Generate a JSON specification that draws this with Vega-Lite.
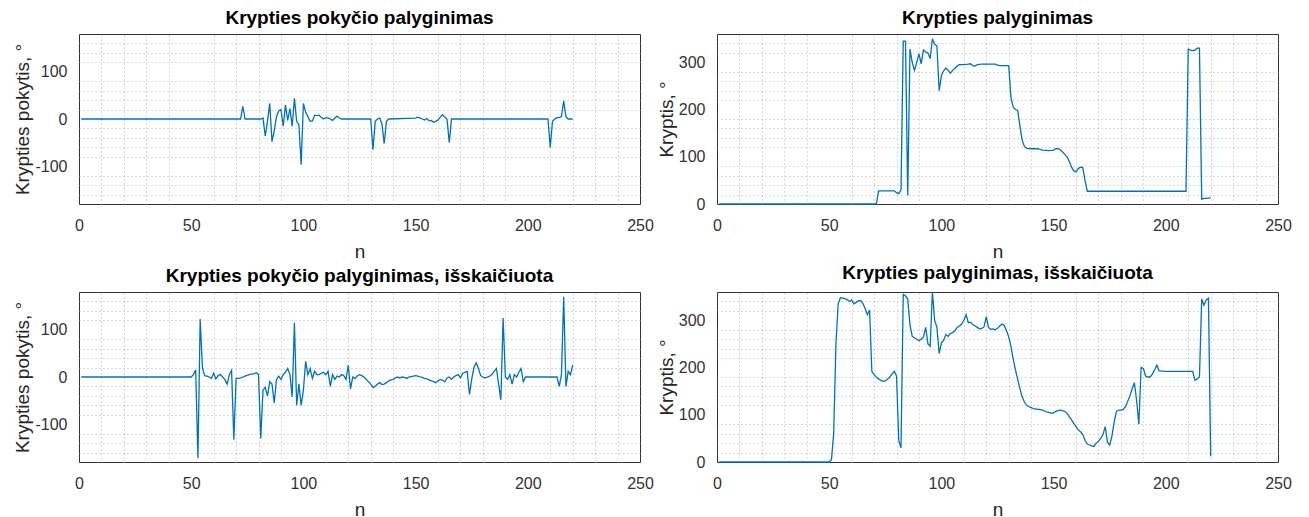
{
  "$schema": "https://vega.github.io/schema/vega-lite/v6.json",
  "background": "white",
  "padding": {"left": 13, "top": 8, "right": 0, "bottom": 0},
  "columns": 2,
  "spacing": {"row": 88, "column": 77},
  "bounds": "flush",
  "datasets": {
    "tl": [
      {"n":1,"v":0},{"n":72,"v":0},{"n":73,"v":27},{"n":74,"v":0},{"n":81,"v":0},{"n":82,"v":2},{"n":83,"v":-36},{"n":84,"v":-5},{"n":85,"v":33},{"n":86,"v":-48},{"n":87,"v":-25},{"n":88,"v":5},{"n":89,"v":17},{"n":90,"v":20},{"n":91,"v":-15},{"n":92,"v":30},{"n":93,"v":-3},{"n":94,"v":22},{"n":95,"v":-15},{"n":96,"v":44},{"n":97,"v":-5},{"n":98,"v":-12},{"n":99,"v":-97},{"n":100,"v":33},{"n":101,"v":15},{"n":102,"v":5},{"n":103,"v":-5},{"n":104,"v":-4},{"n":105,"v":8},{"n":106,"v":7},{"n":107,"v":8},{"n":108,"v":3},{"n":109,"v":0},{"n":110,"v":3},{"n":111,"v":2},{"n":112,"v":0},{"n":113,"v":-3},{"n":114,"v":2},{"n":115,"v":6},{"n":116,"v":2},{"n":117,"v":0},{"n":130,"v":0},{"n":131,"v":-65},{"n":132,"v":-5},{"n":133,"v":0},{"n":134,"v":2},{"n":135,"v":-10},{"n":136,"v":-52},{"n":137,"v":-5},{"n":138,"v":0},{"n":150,"v":2},{"n":151,"v":4},{"n":152,"v":2},{"n":153,"v":0},{"n":154,"v":-2},{"n":155,"v":1},{"n":156,"v":-4},{"n":157,"v":-3},{"n":158,"v":-7},{"n":159,"v":-5},{"n":160,"v":-2},{"n":161,"v":4},{"n":162,"v":9},{"n":163,"v":4},{"n":164,"v":0},{"n":165,"v":-50},{"n":166,"v":0},{"n":209,"v":0},{"n":210,"v":-60},{"n":211,"v":-5},{"n":212,"v":0},{"n":213,"v":3},{"n":214,"v":3},{"n":215,"v":5},{"n":216,"v":38},{"n":217,"v":5},{"n":218,"v":0},{"n":220,"v":0}
    ],
    "tr": [
      {"n":1,"v":0},{"n":71,"v":0},{"n":72,"v":28},{"n":79,"v":28},{"n":80,"v":24},{"n":81,"v":22},{"n":82,"v":30},{"n":83,"v":345},{"n":84,"v":345},{"n":85,"v":18},{"n":86,"v":328},{"n":87,"v":300},{"n":88,"v":283},{"n":89,"v":300},{"n":90,"v":318},{"n":91,"v":297},{"n":92,"v":326},{"n":93,"v":322},{"n":94,"v":320},{"n":95,"v":308},{"n":96,"v":350},{"n":97,"v":338},{"n":98,"v":335},{"n":99,"v":240},{"n":100,"v":272},{"n":101,"v":282},{"n":102,"v":288},{"n":103,"v":283},{"n":104,"v":277},{"n":105,"v":283},{"n":106,"v":287},{"n":107,"v":292},{"n":108,"v":295},{"n":110,"v":295},{"n":112,"v":296},{"n":113,"v":297},{"n":114,"v":293},{"n":115,"v":292},{"n":116,"v":295},{"n":118,"v":296},{"n":121,"v":296},{"n":124,"v":296},{"n":125,"v":294},{"n":126,"v":293},{"n":130,"v":293},{"n":131,"v":225},{"n":132,"v":205},{"n":133,"v":200},{"n":134,"v":198},{"n":135,"v":165},{"n":136,"v":135},{"n":137,"v":122},{"n":138,"v":118},{"n":140,"v":117},{"n":143,"v":117},{"n":145,"v":114},{"n":148,"v":113},{"n":150,"v":114},{"n":151,"v":117},{"n":152,"v":117},{"n":153,"v":115},{"n":154,"v":110},{"n":155,"v":105},{"n":156,"v":100},{"n":157,"v":90},{"n":158,"v":78},{"n":159,"v":70},{"n":160,"v":68},{"n":161,"v":75},{"n":162,"v":78},{"n":163,"v":77},{"n":164,"v":50},{"n":165,"v":27},{"n":209,"v":27},{"n":210,"v":328},{"n":211,"v":326},{"n":212,"v":325},{"n":213,"v":326},{"n":214,"v":330},{"n":215,"v":330},{"n":216,"v":10},{"n":217,"v":12},{"n":218,"v":12},{"n":220,"v":13}
    ],
    "bl": [
      {"n":1,"v":0},{"n":50,"v":0},{"n":51,"v":5},{"n":52,"v":15},{"n":53,"v":-172},{"n":54,"v":123},{"n":55,"v":20},{"n":56,"v":3},{"n":57,"v":2},{"n":58,"v":0},{"n":59,"v":-3},{"n":60,"v":8},{"n":61,"v":-4},{"n":62,"v":3},{"n":63,"v":5},{"n":64,"v":0},{"n":65,"v":-5},{"n":66,"v":-15},{"n":67,"v":5},{"n":68,"v":14},{"n":69,"v":-133},{"n":70,"v":-3},{"n":71,"v":-3},{"n":72,"v":-2},{"n":73,"v":0},{"n":74,"v":2},{"n":75,"v":4},{"n":76,"v":5},{"n":77,"v":6},{"n":78,"v":7},{"n":79,"v":9},{"n":80,"v":5},{"n":81,"v":-130},{"n":82,"v":-28},{"n":83,"v":-22},{"n":84,"v":-40},{"n":85,"v":-10},{"n":86,"v":-15},{"n":87,"v":-55},{"n":88,"v":-5},{"n":89,"v":2},{"n":90,"v":-5},{"n":91,"v":5},{"n":92,"v":10},{"n":93,"v":18},{"n":94,"v":5},{"n":95,"v":-42},{"n":96,"v":115},{"n":97,"v":-60},{"n":98,"v":-15},{"n":99,"v":-60},{"n":100,"v":-28},{"n":101,"v":33},{"n":102,"v":5},{"n":103,"v":18},{"n":104,"v":-3},{"n":105,"v":12},{"n":106,"v":5},{"n":107,"v":5},{"n":108,"v":8},{"n":109,"v":10},{"n":110,"v":5},{"n":111,"v":12},{"n":112,"v":-20},{"n":113,"v":5},{"n":114,"v":-5},{"n":115,"v":2},{"n":116,"v":0},{"n":117,"v":5},{"n":118,"v":3},{"n":119,"v":-5},{"n":120,"v":25},{"n":121,"v":-25},{"n":122,"v":0},{"n":123,"v":-3},{"n":124,"v":2},{"n":125,"v":5},{"n":126,"v":3},{"n":127,"v":0},{"n":128,"v":-5},{"n":129,"v":-10},{"n":130,"v":-15},{"n":131,"v":-22},{"n":132,"v":-20},{"n":133,"v":-15},{"n":134,"v":-12},{"n":135,"v":-16},{"n":136,"v":-15},{"n":137,"v":-12},{"n":138,"v":-8},{"n":139,"v":-6},{"n":140,"v":-5},{"n":141,"v":-2},{"n":142,"v":0},{"n":143,"v":-2},{"n":144,"v":0},{"n":145,"v":-1},{"n":146,"v":-3},{"n":147,"v":0},{"n":148,"v":1},{"n":149,"v":2},{"n":150,"v":3},{"n":151,"v":2},{"n":152,"v":0},{"n":153,"v":-1},{"n":154,"v":-3},{"n":155,"v":-4},{"n":156,"v":-6},{"n":157,"v":-8},{"n":158,"v":-10},{"n":159,"v":-12},{"n":160,"v":-8},{"n":161,"v":-5},{"n":162,"v":-7},{"n":163,"v":-10},{"n":164,"v":-2},{"n":165,"v":0},{"n":166,"v":-5},{"n":167,"v":0},{"n":168,"v":3},{"n":169,"v":5},{"n":170,"v":-2},{"n":171,"v":8},{"n":172,"v":10},{"n":173,"v":12},{"n":174,"v":-37},{"n":175,"v":-5},{"n":176,"v":20},{"n":177,"v":30},{"n":178,"v":18},{"n":179,"v":3},{"n":180,"v":0},{"n":181,"v":-2},{"n":182,"v":0},{"n":183,"v":2},{"n":184,"v":5},{"n":185,"v":12},{"n":186,"v":18},{"n":187,"v":-15},{"n":188,"v":-48},{"n":189,"v":125},{"n":190,"v":0},{"n":191,"v":-5},{"n":192,"v":5},{"n":193,"v":-15},{"n":194,"v":5},{"n":195,"v":0},{"n":196,"v":10},{"n":197,"v":18},{"n":198,"v":-10},{"n":199,"v":0},{"n":213,"v":0},{"n":214,"v":-20},{"n":215,"v":5},{"n":216,"v":170},{"n":217,"v":-20},{"n":218,"v":12},{"n":219,"v":5},{"n":220,"v":25}
    ],
    "br": [
      {"n":1,"v":0},{"n":50,"v":0},{"n":51,"v":5},{"n":52,"v":60},{"n":53,"v":250},{"n":54,"v":335},{"n":55,"v":348},{"n":56,"v":347},{"n":57,"v":346},{"n":58,"v":344},{"n":59,"v":340},{"n":60,"v":343},{"n":61,"v":335},{"n":62,"v":338},{"n":63,"v":341},{"n":64,"v":342},{"n":65,"v":336},{"n":66,"v":325},{"n":67,"v":312},{"n":68,"v":322},{"n":69,"v":192},{"n":70,"v":185},{"n":71,"v":180},{"n":72,"v":176},{"n":73,"v":173},{"n":74,"v":171},{"n":75,"v":172},{"n":76,"v":175},{"n":77,"v":180},{"n":78,"v":186},{"n":79,"v":192},{"n":80,"v":182},{"n":81,"v":45},{"n":82,"v":30},{"n":83,"v":355},{"n":84,"v":352},{"n":85,"v":345},{"n":86,"v":290},{"n":87,"v":266},{"n":88,"v":263},{"n":89,"v":260},{"n":90,"v":257},{"n":91,"v":260},{"n":92,"v":265},{"n":93,"v":285},{"n":94,"v":250},{"n":95,"v":245},{"n":96,"v":360},{"n":97,"v":300},{"n":98,"v":285},{"n":99,"v":230},{"n":100,"v":252},{"n":101,"v":258},{"n":102,"v":270},{"n":103,"v":266},{"n":104,"v":272},{"n":105,"v":274},{"n":106,"v":278},{"n":107,"v":285},{"n":108,"v":288},{"n":109,"v":292},{"n":110,"v":300},{"n":111,"v":312},{"n":112,"v":295},{"n":113,"v":296},{"n":114,"v":291},{"n":115,"v":288},{"n":116,"v":285},{"n":117,"v":282},{"n":118,"v":283},{"n":119,"v":286},{"n":120,"v":308},{"n":121,"v":285},{"n":122,"v":281},{"n":123,"v":282},{"n":124,"v":280},{"n":125,"v":283},{"n":126,"v":288},{"n":127,"v":292},{"n":128,"v":289},{"n":129,"v":278},{"n":130,"v":265},{"n":131,"v":245},{"n":132,"v":218},{"n":133,"v":195},{"n":134,"v":175},{"n":135,"v":155},{"n":136,"v":138},{"n":137,"v":127},{"n":138,"v":120},{"n":139,"v":117},{"n":140,"v":115},{"n":141,"v":113},{"n":142,"v":112},{"n":143,"v":112},{"n":144,"v":111},{"n":145,"v":110},{"n":146,"v":108},{"n":147,"v":106},{"n":148,"v":105},{"n":149,"v":103},{"n":150,"v":104},{"n":151,"v":107},{"n":152,"v":109},{"n":153,"v":110},{"n":154,"v":109},{"n":155,"v":107},{"n":156,"v":103},{"n":157,"v":96},{"n":158,"v":89},{"n":159,"v":82},{"n":160,"v":75},{"n":161,"v":68},{"n":162,"v":64},{"n":163,"v":58},{"n":164,"v":46},{"n":165,"v":38},{"n":166,"v":36},{"n":167,"v":34},{"n":168,"v":33},{"n":169,"v":40},{"n":170,"v":44},{"n":171,"v":50},{"n":172,"v":58},{"n":173,"v":75},{"n":174,"v":42},{"n":175,"v":36},{"n":176,"v":55},{"n":177,"v":85},{"n":178,"v":107},{"n":179,"v":110},{"n":180,"v":110},{"n":181,"v":111},{"n":182,"v":117},{"n":183,"v":128},{"n":184,"v":140},{"n":185,"v":155},{"n":186,"v":168},{"n":187,"v":130},{"n":188,"v":80},{"n":189,"v":200},{"n":190,"v":198},{"n":191,"v":182},{"n":192,"v":180},{"n":193,"v":180},{"n":194,"v":186},{"n":195,"v":195},{"n":196,"v":205},{"n":197,"v":193},{"n":200,"v":192},{"n":212,"v":192},{"n":213,"v":173},{"n":214,"v":176},{"n":215,"v":180},{"n":216,"v":345},{"n":217,"v":332},{"n":218,"v":343},{"n":219,"v":347},{"n":220,"v":12}
    ]
  },
  "concat": [
    {
      "width": 561, "height": 170,
      "title": "Krypties pokyčio palyginimas",
      "data": {"name": "tl"},
      "layer": [
        {
          "mark": {"type": "line", "strokeOpacity": 0},
          "encoding": {
            "x": {"field": "n", "type": "quantitative", "scale": {"domain": [0, 250], "nice": false, "zero": false},
                  "axis": {"orient": "top", "values": [10,20,30,40,60,70,80,90,110,120,130,140,160,170,180,190,210,220,230,240], "grid": true, "gridDash": [1, 3], "gridColor": "#b4b4b4", "labels": false, "ticks": false, "domain": false, "title": null}},
            "y": {"field": "v", "type": "quantitative", "scale": {"domain": [-180, 180], "nice": false},
                  "axis": {"orient": "right", "values": [-160,-140,-120,-80,-60,-40,-20,20,40,60,80,120,140,160], "grid": true, "gridDash": [1, 3], "gridColor": "#b4b4b4", "labels": false, "ticks": false, "domain": false, "title": null}}
          }
        },
        {
          "mark": {"type": "line", "color": "#0072BD", "strokeWidth": 1.3},
          "encoding": {
            "x": {"field": "n", "type": "quantitative", "axis": {"orient": "bottom", "values": [0,50,100,150,200,250], "title": "n"}},
            "y": {"field": "v", "type": "quantitative", "axis": {"orient": "left", "values": [-100,0,100], "title": "Krypties pokytis, °", "labelExpr": "replace(datum.label, '\u2212', '-')"}}
          }
        }
      ],
      "resolve": {"axis": {"x": "independent", "y": "independent"}}
    },
    {
      "width": 561, "height": 170,
      "title": "Krypties palyginimas",
      "data": {"name": "tr"},
      "layer": [
        {
          "mark": {"type": "line", "strokeOpacity": 0},
          "encoding": {
            "x": {"field": "n", "type": "quantitative", "scale": {"domain": [0, 250], "nice": false, "zero": false},
                  "axis": {"orient": "top", "values": [10,20,30,40,60,70,80,90,110,120,130,140,160,170,180,190,210,220,230,240], "grid": true, "gridDash": [1, 3], "gridColor": "#b4b4b4", "labels": false, "ticks": false, "domain": false, "title": null}},
            "y": {"field": "v", "type": "quantitative", "scale": {"domain": [0, 360], "nice": false},
                  "axis": {"orient": "right", "values": [20,40,60,80,120,140,160,180,220,240,260,280,320,340], "grid": true, "gridDash": [1, 3], "gridColor": "#b4b4b4", "labels": false, "ticks": false, "domain": false, "title": null}}
          }
        },
        {
          "mark": {"type": "line", "color": "#0072BD", "strokeWidth": 1.3},
          "encoding": {
            "x": {"field": "n", "type": "quantitative", "axis": {"orient": "bottom", "values": [0,50,100,150,200,250], "title": "n"}},
            "y": {"field": "v", "type": "quantitative", "axis": {"orient": "left", "values": [0,100,200,300], "title": "Kryptis, °"}}
          }
        }
      ],
      "resolve": {"axis": {"x": "independent", "y": "independent"}}
    },
    {
      "width": 561, "height": 170,
      "title": "Krypties pokyčio palyginimas, išskaičiuota",
      "data": {"name": "bl"},
      "layer": [
        {
          "mark": {"type": "line", "strokeOpacity": 0},
          "encoding": {
            "x": {"field": "n", "type": "quantitative", "scale": {"domain": [0, 250], "nice": false, "zero": false},
                  "axis": {"orient": "top", "values": [10,20,30,40,60,70,80,90,110,120,130,140,160,170,180,190,210,220,230,240], "grid": true, "gridDash": [1, 3], "gridColor": "#b4b4b4", "labels": false, "ticks": false, "domain": false, "title": null}},
            "y": {"field": "v", "type": "quantitative", "scale": {"domain": [-180, 180], "nice": false},
                  "axis": {"orient": "right", "values": [-160,-140,-120,-80,-60,-40,-20,20,40,60,80,120,140,160], "grid": true, "gridDash": [1, 3], "gridColor": "#b4b4b4", "labels": false, "ticks": false, "domain": false, "title": null}}
          }
        },
        {
          "mark": {"type": "line", "color": "#0072BD", "strokeWidth": 1.3},
          "encoding": {
            "x": {"field": "n", "type": "quantitative", "axis": {"orient": "bottom", "values": [0,50,100,150,200,250], "title": "n"}},
            "y": {"field": "v", "type": "quantitative", "axis": {"orient": "left", "values": [-100,0,100], "title": "Krypties pokytis, °", "labelExpr": "replace(datum.label, '\u2212', '-')"}}
          }
        }
      ],
      "resolve": {"axis": {"x": "independent", "y": "independent"}}
    },
    {
      "width": 561, "height": 170,
      "title": "Krypties palyginimas, išskaičiuota",
      "data": {"name": "br"},
      "layer": [
        {
          "mark": {"type": "line", "strokeOpacity": 0},
          "encoding": {
            "x": {"field": "n", "type": "quantitative", "scale": {"domain": [0, 250], "nice": false, "zero": false},
                  "axis": {"orient": "top", "values": [10,20,30,40,60,70,80,90,110,120,130,140,160,170,180,190,210,220,230,240], "grid": true, "gridDash": [1, 3], "gridColor": "#b4b4b4", "labels": false, "ticks": false, "domain": false, "title": null}},
            "y": {"field": "v", "type": "quantitative", "scale": {"domain": [0, 360], "nice": false},
                  "axis": {"orient": "right", "values": [20,40,60,80,120,140,160,180,220,240,260,280,320,340], "grid": true, "gridDash": [1, 3], "gridColor": "#b4b4b4", "labels": false, "ticks": false, "domain": false, "title": null}}
          }
        },
        {
          "mark": {"type": "line", "color": "#0072BD", "strokeWidth": 1.3},
          "encoding": {
            "x": {"field": "n", "type": "quantitative", "axis": {"orient": "bottom", "values": [0,50,100,150,200,250], "title": "n"}},
            "y": {"field": "v", "type": "quantitative", "axis": {"orient": "left", "values": [0,100,200,300], "title": "Kryptis, °"}}
          }
        }
      ],
      "resolve": {"axis": {"x": "independent", "y": "independent"}}
    }
  ],
  "config": {
    "font": "Liberation Sans",
    "view": {"stroke": "#333333", "strokeWidth": 1},
    "title": {"fontSize": 19, "fontWeight": "bold", "color": "#000000", "offset": 6, "anchor": "middle", "frame": "group"},
    "axis": {
      "grid": true,
      "gridColor": "#dedede",
      "gridWidth": 1,
      "domain": false,
      "ticks": false,
      "labelFontSize": 16,
      "labelColor": "#333333",
      "labelFlush": false,
      "labelOverlap": false,
      "titleFontSize": 19,
      "titleFontWeight": "normal",
      "titleColor": "#262626"
    },
    "axisX": {"labelPadding": 13, "titlePadding": 9},
    "axisY": {"labelPadding": 12, "titlePadding": 2}
  }
}
